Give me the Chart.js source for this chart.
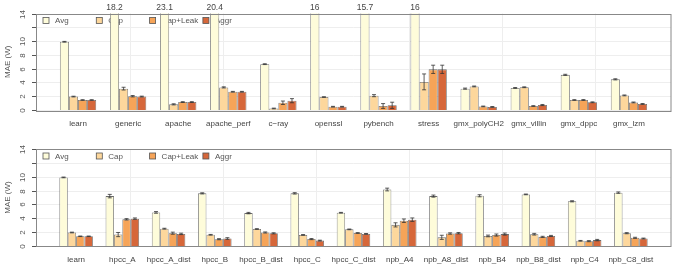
<!DOCTYPE html>
<html>
<head>
<meta charset="utf-8">
<script src="https://cdn.jsdelivr.net/npm/chart.js@4.4.0/dist/chart.umd.min.js"></script>
<style>
  body { margin: 0; background: #fff; }
  canvas { display: block; }
</style>
</head>
<body>
<canvas id="graficoArriba" width="682" height="130"></canvas>
<canvas id="graficoAbajo" width="682" height="134"></canvas>
<script>
const series = ['Avg', 'Cap', 'Cap+Leak', 'Aggr'];
const colores = ['#FEFCDA', '#FDD79C', '#F6A458', '#D6673A'];
const ticksY = [0, 2, 4, 6, 8, 10, 12, 14];

// panel de arriba
const catsArriba = ['learn', 'generic', 'apache', 'apache_perf', 'c\u2212ray', 'openssl', 'pybench', 'stress',
    'gmx_polyCH2', 'gmx_villin', 'gmx_dppc', 'gmx_lzm'];
const avgArriba  = [9.9, 18.2, 23.1, 20.4, 6.65, 16, 15.7, 16, 3.1, 3.2, 5.1, 4.45];
const capArriba  = [1.95, 3.1, 0.82, 3.28, 0.22, 1.88, 2.08, 4.08, 3.42, 3.3, 1.45, 2.12];
const leakArriba = [1.45, 2.0, 1.15, 2.65, 1.05, 0.48, 0.58, 5.9, 0.52, 0.58, 1.45, 1.1];
const aggrArriba = [1.45, 1.95, 1.15, 2.65, 1.35, 0.48, 0.68, 5.9, 0.45, 0.72, 1.12, 0.88];
const errAvgArriba  = [0.05, 0, 0, 0, 0.06, 0, 0, 0, 0.08, 0.06, 0.08, 0.08];
const errCapArriba  = [0.05, 0.2, 0.08, 0.08, 0.05, 0.04, 0.15, 1.15, 0.06, 0.06, 0.05, 0.06];
const errLeakArriba = [0.04, 0.1, 0.06, 0.05, 0.25, 0.05, 0.35, 0.6, 0.05, 0.05, 0.06, 0.06];
const errAggrArriba = [0.04, 0.06, 0.06, 0.05, 0.3, 0.05, 0.45, 0.6, 0.05, 0.08, 0.06, 0.06];

// panel de abajo
const catsAbajo = ['learn', 'hpcc_A', 'hpcc_A_dist', 'hpcc_B', 'hpcc_B_dist', 'hpcc_C', 'hpcc_C_dist',
    'npb_A4', 'npb_A8_dist', 'npb_B4', 'npb_B8_dist', 'npb_C4', 'npb_C8_dist'];
const avgAbajo  = [9.9, 7.2, 4.85, 7.6, 4.75, 7.6, 4.8, 8.15, 7.2, 7.25, 7.45, 6.45, 7.7];
const capAbajo  = [1.95, 1.65, 2.5, 1.62, 2.45, 1.6, 2.4, 3.05, 1.25, 1.45, 1.7, 0.75, 1.85];
const leakAbajo = [1.4, 3.85, 1.85, 0.98, 1.95, 1.0, 1.88, 3.65, 1.8, 1.58, 1.32, 0.7, 1.18];
const aggrAbajo = [1.4, 3.95, 1.75, 1.08, 1.83, 0.78, 1.75, 3.8, 1.85, 1.72, 1.45, 0.85, 1.08];
const errAvgAbajo  = [0.05, 0.25, 0.12, 0.08, 0.1, 0.1, 0.05, 0.2, 0.15, 0.15, 0.05, 0.08, 0.1];
const errCapAbajo  = [0.05, 0.3, 0.06, 0.05, 0.05, 0.05, 0.05, 0.3, 0.3, 0.12, 0.12, 0.05, 0.08];
const errLeakAbajo = [0.04, 0.1, 0.15, 0.08, 0.08, 0.08, 0.05, 0.25, 0.1, 0.15, 0.08, 0.08, 0.08];
const errAggrAbajo = [0.04, 0.1, 0.1, 0.12, 0.08, 0.06, 0.05, 0.25, 0.1, 0.15, 0.08, 0.1, 0.06];

const FUENTE = '"Liberation Sans", Arial, sans-serif';
const MARCO_IZQ = 36.5;
const MARCO_DER = 671;

// marco, rejilla, eje y, leyenda, barras de error y etiquetas de valores recortados
const pluginMarco = {
    id: 'marco',
    beforeDatasetsDraw(chart) {
        const ctx = chart.ctx;
        const area = chart.chartArea;
        const y = chart.scales.y;
        ctx.save();
        // rejilla
        ctx.strokeStyle = '#eeeeee';
        ctx.lineWidth = 1;
        ticksY.forEach(v => {
            const py = Math.round(y.getPixelForValue(v)) + 0.5;
            ctx.beginPath();
            ctx.moveTo(MARCO_IZQ, py);
            ctx.lineTo(MARCO_DER, py);
            ctx.stroke();
        });
        for (let gx = MARCO_IZQ + 93; gx < MARCO_DER; gx += 93) {
            ctx.beginPath();
            ctx.moveTo(Math.round(gx) + 0.5, area.top);
            ctx.lineTo(Math.round(gx) + 0.5, area.bottom);
            ctx.stroke();
        }
        // ticks y etiquetas del eje y
        ctx.strokeStyle = '#555';
        ctx.fillStyle = '#555';
        ctx.font = '8px ' + FUENTE;
        ctx.textAlign = 'center';
        ctx.textBaseline = 'middle';
        ticksY.forEach(v => {
            const py = Math.round(y.getPixelForValue(v)) + 0.5;
            ctx.beginPath();
            ctx.moveTo(MARCO_IZQ - 4.5, py);
            ctx.lineTo(MARCO_IZQ, py);
            ctx.stroke();
            if (v === 12) return;
            ctx.save();
            ctx.translate(23, py);
            ctx.rotate(-Math.PI / 2);
            ctx.fillText(String(v), 0, 0);
            ctx.restore();
        });
        ctx.save();
        ctx.translate(8, (area.top + area.bottom) / 2);
        ctx.rotate(-Math.PI / 2);
        ctx.fillText('MAE (W)', 0, 0);
        ctx.restore();
        // leyenda (queda debajo de las barras)
        const ly = area.top + 7;
        series.forEach((s, i) => {
            const lx = MARCO_IZQ + 6.5 + i * 53.3;
            ctx.fillStyle = colores[i];
            ctx.fillRect(lx, ly - 3, 6, 6);
            ctx.strokeStyle = '#555';
            ctx.lineWidth = 0.8;
            ctx.strokeRect(lx, ly - 3, 6, 6);
            ctx.fillStyle = '#555';
            ctx.textAlign = 'left';
            ctx.fillText(s, lx + 12, ly + 0.5);
        });
        ctx.restore();
    },
    afterDatasetsDraw(chart) {
        const ctx = chart.ctx;
        const area = chart.chartArea;
        const y = chart.scales.y;
        const errores = chart.options.plugins.marco.errores;
        ctx.save();
        // barras de error
        ctx.strokeStyle = '#333';
        ctx.lineWidth = 0.8;
        chart.data.datasets.forEach((ds, d) => {
            const meta = chart.getDatasetMeta(d);
            meta.data.forEach((barra, i) => {
                const v = ds.data[i];
                const e = errores[d][i];
                if (v > y.max || !e) return;
                const y1 = y.getPixelForValue(v + e);
                const y2 = y.getPixelForValue(v - e);
                ctx.beginPath();
                ctx.moveTo(barra.x, y1);
                ctx.lineTo(barra.x, y2);
                ctx.moveTo(barra.x - 2, y1);
                ctx.lineTo(barra.x + 2, y1);
                ctx.moveTo(barra.x - 2, y2);
                ctx.lineTo(barra.x + 2, y2);
                ctx.stroke();
            });
        });
        // valores que se salen del eje
        ctx.fillStyle = '#444';
        ctx.font = '8.5px ' + FUENTE;
        ctx.textAlign = 'center';
        ctx.textBaseline = 'middle';
        const metaAvg = chart.getDatasetMeta(0);
        chart.data.datasets[0].data.forEach((v, i) => {
            if (v > y.max) ctx.fillText(String(v), metaAvg.data[i].x, area.top - 5.5);
        });
        // marco
        ctx.strokeStyle = '#888';
        ctx.lineWidth = 1;
        ctx.strokeRect(MARCO_IZQ, Math.round(area.top) + 0.5, MARCO_DER - MARCO_IZQ, Math.round(area.bottom - area.top));
        ctx.restore();
    }
};

function crearGrafico(id, cats, valores, errores, padding, altoEje) {
    const ctx = document.getElementById(id).getContext('2d');
    return new Chart(ctx, {
        type: 'bar',
        data: {
            labels: cats,
            datasets: valores.map((vals, i) => ({
                label: series[i],
                data: vals,
                backgroundColor: colores[i],
                borderColor: '#6a6a6a',
                borderWidth: 0.8,
                categoryPercentage: 0.725,
                barPercentage: 1
            }))
        },
        options: {
            responsive: false,
            animation: false,
            devicePixelRatio: 1,
            layout: { padding: padding },
            plugins: {
                legend: { display: false },
                tooltip: { enabled: false },
                marco: { errores: errores }
            },
            scales: {
                x: {
                    grid: { display: false, drawTicks: false },
                    border: { display: false },
                    ticks: {
                        autoSkip: false,
                        maxRotation: 0,
                        padding: 9,
                        color: '#444',
                        font: { family: FUENTE, size: 8 }
                    },
                    afterFit: s => { s.height = altoEje; }
                },
                y: {
                    display: false,
                    min: 0,
                    max: 14
                }
            }
        },
        plugins: [pluginMarco]
    });
}

crearGrafico('graficoArriba', catsArriba,
    [avgArriba, capArriba, leakArriba, aggrArriba],
    [errAvgArriba, errCapArriba, errLeakArriba, errAggrArriba],
    { left: 53, right: 28, top: 13.5, bottom: 0 }, 20);

crearGrafico('graficoAbajo', catsAbajo,
    [avgAbajo, capAbajo, leakAbajo, aggrAbajo],
    [errAvgAbajo, errCapAbajo, errLeakAbajo, errAggrAbajo],
    { left: 53, right: 28, top: 19, bottom: 0 }, 18);
</script>
</body>
</html>
